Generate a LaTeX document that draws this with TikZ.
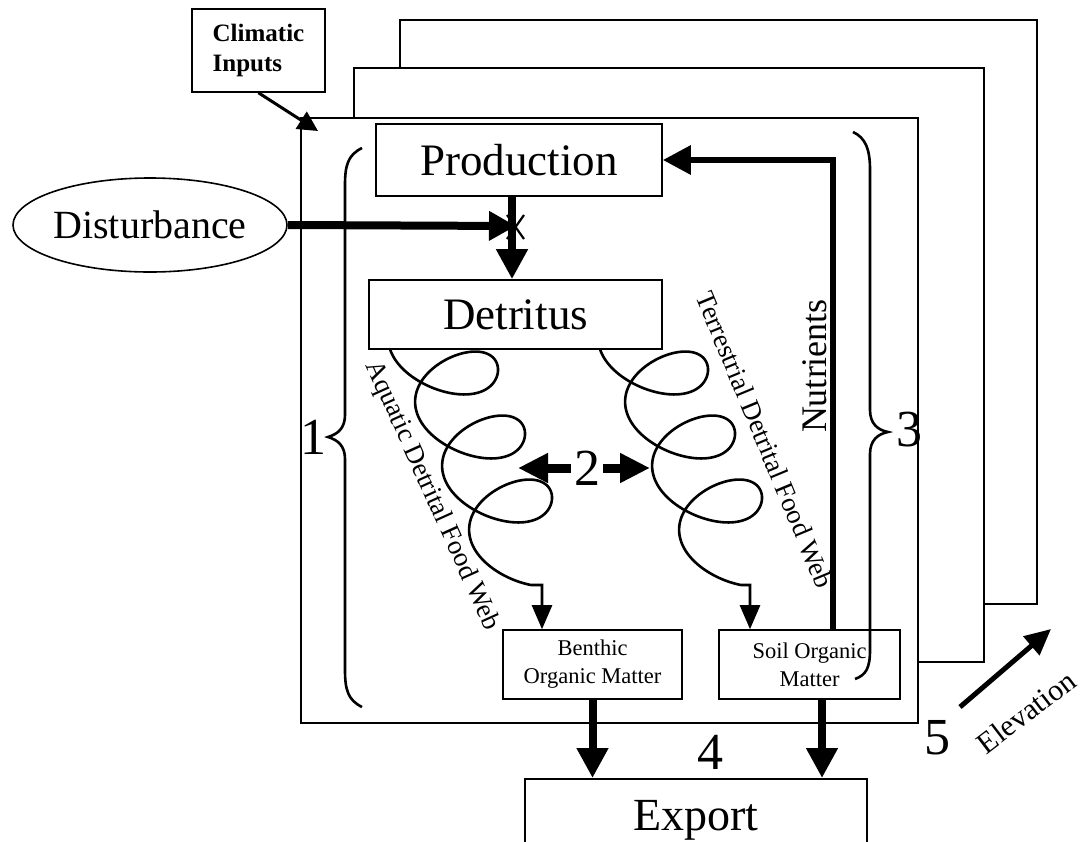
\documentclass[tikz,border=0pt]{standalone}
\usepackage{fontspec}
\setmainfont{Liberation Serif}
\usetikzlibrary{arrows.meta,shapes.geometric}
\begin{document}
\begin{tikzpicture}[x=1pt,y=-1pt,
  frame/.style={draw,line width=1.6pt,fill=white},
  box/.style={draw,line width=1.6pt,fill=white,inner sep=0pt,align=center},
  bigarrow/.style={line width=8pt,-{Triangle[length=30pt,width=30pt]}},
  coil/.style={line width=2.6pt,-{Triangle[length=24pt,width=20pt]}},
  bracestyle/.style={line width=2.6pt},
  digit/.style={font=\fontsize{52}{52}\selectfont,inner sep=0pt},
  slant/.style={font=\fontsize{27}{27}\selectfont,inner sep=0pt}
]
\fill[white] (0,0) rectangle (1091,841);
\useasboundingbox (0,0) rectangle (1091,841);

% stacked frames
\draw[frame] (400,20) rectangle (1037,604);
\draw[frame] (354,68) rectangle (984,662);
\draw[frame] (301,118) rectangle (918,723);

% nodes
\node[box,minimum width=133pt,minimum height=83pt,align=left,
      font=\bfseries\fontsize{25}{30}\selectfont] (clim) at (258.5,50.5) {Climatic\\Inputs};
\node[draw,ellipse,line width=1.6pt,minimum width=274pt,minimum height=94pt,inner sep=0pt,
      font=\fontsize{40}{40}\selectfont] (dist) at (150,225) {Disturbance};
\node[box,minimum width=286pt,minimum height=72pt,font=\fontsize{45}{45}\selectfont] (prod) at (519,160) {Production};
\node[box,minimum width=293pt,minimum height=69pt,font=\fontsize{45}{45}\selectfont] (detr) at (515.5,314.5) {Detritus};
\node[box,minimum width=179pt,minimum height=69pt,font=\fontsize{22.5}{28}\selectfont] (benth) at (592.5,664.5) {Benthic\\Organic Matter};
\node[box,minimum width=181pt,minimum height=69pt,font=\fontsize{22.5}{28}\selectfont] (soil) at (809.5,664.5) {Soil Organic\\Matter};
\node[box,anchor=north,minimum width=342pt,minimum height=84pt,font=\fontsize{46}{46}\selectfont] (export) at (696,778) {Export};

% climatic arrow
\coordinate (corner) at (318,131);
\draw[line width=3pt,-{Triangle[length=20pt,width=20pt]}] (clim.south) -- (corner);

% production -> detritus, disturbance
\draw[bigarrow] ([xshift=-7pt]prod.south) -- ([xshift=-3.5pt]detr.north);
\coordinate (hit) at (516,226);
\draw[line width=8pt,-{Triangle[length=27pt,width=28pt]}] (dist.east) -- (hit);
\draw[line width=2.2pt] (507,215) -- (524,239) (524,215) -- (507,239);

% coils
\draw[coil] plot[domain=-1.4:18.85,samples=400,variable=\t]
  ({450+27*\t/6.2832+48*sin(\t r)-7*pow(sin(\t r),2)},{357+64*\t/6.2832+36*cos(\t r)})
  -| ([xshift=-50.5pt]benth.north);
\draw[coil] plot[domain=-1.4:18.85,samples=400,variable=\t]
  ({660+27*\t/6.2832+48*sin(\t r)-7*pow(sin(\t r),2)},{357+64*\t/6.2832+36*cos(\t r)})
  -| ([xshift=-59.5pt]soil.north);

\node[slant,rotate=-65.7] (aq) at (432,496) {Aquatic Detrital Food Web};
\node[slant,rotate=-67.4] (te) at (765,440) {Terrestrial Detrital Food Web};

% double arrow 2
\coordinate (a2l) at (518,468);
\coordinate (a2r) at (650,468);
\draw[line width=9pt,{Triangle[length=30pt,width=28pt]}-{Triangle[length=30pt,width=28pt]}] (a2l) -- (a2r);
\node[digit,fill=white,inner sep=3pt] (two) at (587,468) {2};

% nutrients
\draw[line width=6pt,-{Triangle[length=28pt,width=28pt]}] ([xshift=23.5pt]soil.north) |- (prod.east);
\node[rotate=90,font=\fontsize{36}{36}\selectfont,inner sep=0pt] (nut) at (815,366) {Nutrients};

% export arrows
\coordinate (sx) at ([xshift=12.5pt]soil.south);
\draw[bigarrow] (benth.south) -- (benth.south |- export.north);
\draw[bigarrow] (sx) -- (sx |- export.north);

% braces
\draw[bracestyle] (362,148) .. controls (348,155) and (345,165) .. (345,185) -- (345,415)
  .. controls (345,428) and (338,434) .. (328,437) .. controls (338,440) and (345,446) .. (345,459)
  -- (345,670) .. controls (345,690) and (348,700) .. (362,707);
\draw[bracestyle] (853,132) .. controls (866,138) and (870,150) .. (870,170) -- (870,410)
  .. controls (870,424) and (878,430) .. (888,432) .. controls (878,434) and (870,440) .. (870,454)
  -- (870,650) .. controls (870,668) and (866,675) .. (855,679);

% labels
\node[digit] (one) at (313,437) {1};
\node[digit] (three) at (909,430) {3};
\node[digit] (four) at (710,752) {4};
\node[digit] (five) at (937,738) {5};

% elevation
\coordinate (e1) at (960,707);
\coordinate (e2) at (1051,629);
\draw[line width=5pt,-{Triangle[length=26pt,width=24pt]}] (e1) -- (e2);
\node[rotate=37.4,font=\fontsize{30}{30}\selectfont,inner sep=0pt] (elev) at (1026,712) {Elevation};
\end{tikzpicture}
\end{document}
